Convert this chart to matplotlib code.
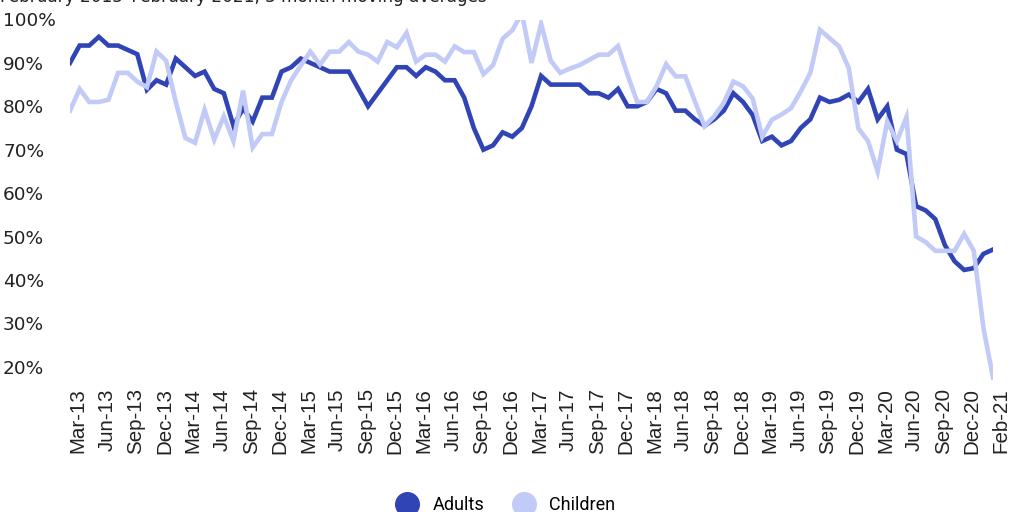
import matplotlib
matplotlib.use('Agg')
import matplotlib.pyplot as plt
import matplotlib.transforms as mtransforms
from matplotlib.lines import Line2D

# 3 month moving averages, monthly points
adults = [90, 94, 94, 96, 94, 94, 93, 92, 83.8, 86, 85, 91, 89, 87, 88, 84, 83,
          75.5, 79.5, 76.5, 82, 82, 88, 89, 91, 90, 89, 88, 88, 88, 84, 80, 83,
          86, 89, 89, 87, 89, 88, 86, 86, 82, 75, 70, 71, 74, 73, 75, 80, 87,
          85, 85, 85, 85, 83, 83, 82, 84, 80, 80, 81, 84, 83, 79, 79, 77, 75.5,
          77, 79, 83, 81, 78, 72, 73, 71, 72, 75, 77, 82, 81, 81.5, 82.7, 81,
          84, 77, 80, 70, 69, 57, 56, 54, 48, 44.3, 42.3, 42.7, 46, 47]
children = [79, 84, 81, 81, 81.5, 87.7, 87.7, 85.7, 84.4, 92.6, 90.5, 81, 72.7,
            71.6, 79.2, 72.3, 77.7, 72, 83.6, 70.5, 73.6, 73.6, 81, 86, 89.4,
            92.6, 89.6, 92.6, 92.6, 94.8, 92.6, 91.9, 90.3, 94.8, 93.6, 96.9,
            90.3, 91.9, 91.9, 90.3, 93.8, 92.5, 92.5, 87.4, 89.5, 95.6, 97.5,
            101.5, 90, 99, 90.5, 87.7, 88.7, 89.5, 90.7, 91.9, 91.9, 93.9, 87.2,
            81, 81, 84.6, 89.7, 86.9, 86.9, 81.1, 75.4, 77.7, 80.8, 85.7, 84.6,
            81.8, 73, 76.9, 78.1, 79.6, 83.4, 87.7, 97.6, 95.7, 93.8, 88.8, 74.9,
            72, 65, 76.5, 72, 77.5, 50, 48.7, 46.7, 46.7, 46.7, 50.6, 46.7, 29,
            17.5]
tick_labels = ['Mar-13', 'Jun-13', 'Sep-13', 'Dec-13', 'Mar-14', 'Jun-14',
               'Sep-14', 'Dec-14', 'Mar-15', 'Jun-15', 'Sep-15', 'Dec-15',
               'Mar-16', 'Jun-16', 'Sep-16', 'Dec-16', 'Mar-17', 'Jun-17',
               'Sep-17', 'Dec-17', 'Mar-18', 'Jun-18', 'Sep-18', 'Dec-18',
               'Mar-19', 'Jun-19', 'Sep-19', 'Dec-19', 'Mar-20', 'Jun-20',
               'Sep-20', 'Dec-20', 'Feb-21']
y_ticks = [20, 30, 40, 50, 60, 70, 80, 90, 100]

dark = '#3044B5'
light = '#C2CAF8'

fig = plt.figure(figsize=(10.24, 5.12), dpi=100)
ax = fig.add_axes([70 / 1024, 1 - 380.6 / 512, 923 / 1024, 361.1 / 512])

x = list(range(len(adults)))
ax.plot(x, adults, color=dark, lw=3.3, solid_joinstyle='miter')
ax.plot(x, children, color=light, lw=3.3, solid_joinstyle='miter')

ax.set_xlim(0, 96)
ax.set_ylim(16.8, 100)
for s in ax.spines.values():
    s.set_visible(False)

ax.set_xticks(range(0, 97, 3))
ax.set_xticklabels(tick_labels, rotation=90, fontsize=14.8,
                   family='Liberation Sans', color='#222222')
ax.tick_params(axis='x', length=0, pad=5.5)
offset = mtransforms.ScaledTranslation(8 / 100, 0, fig.dpi_scale_trans)
for lbl in ax.get_xticklabels():
    lbl.set_transform(lbl.get_transform() + offset)

ax.set_yticks(y_ticks)
ax.set_yticklabels([f'{v}%' for v in y_ticks], fontsize=13.3,
                   family='DejaVu Sans', color='#222222', ha='left')
ax.tick_params(axis='y', length=0, pad=48.2)

# subtitle, mostly cut off at the top edge
fig.text(0.0, 1 - 2.0 / 512, 'February 2013\u2013February 2021, 3 month moving averages',
         va='baseline', ha='left', fontsize=12.2, color='#222222')

handles = [Line2D([], [], ls='none', marker='o', ms=17, color=dark),
           Line2D([], [], ls='none', marker='o', ms=17, color=light)]
fig.legend(handles, ['Adults', 'Children'], loc='center', ncol=2,
           bbox_to_anchor=(0.493, 0.014), frameon=False,
           prop={'family': 'Roboto', 'size': 13},
           handlelength=1.4, handletextpad=0.7, columnspacing=1.5)

fig.savefig('out.png', dpi=100)
